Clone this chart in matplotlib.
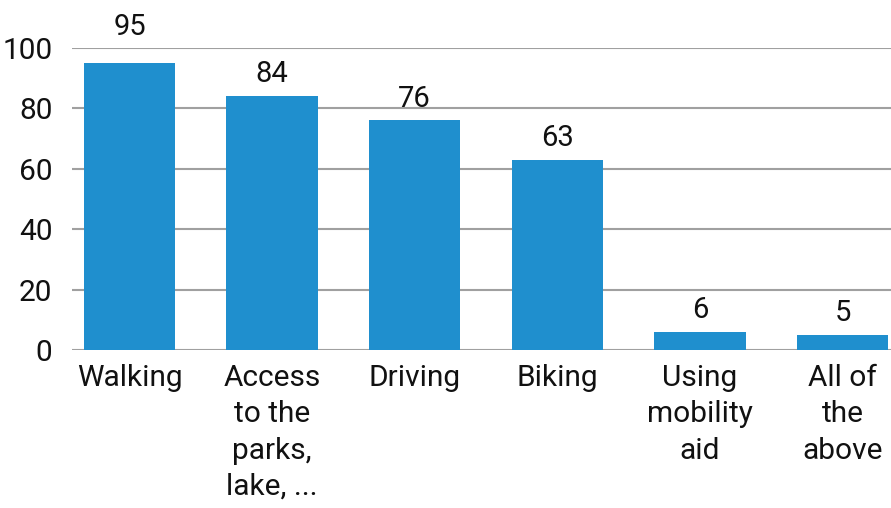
import matplotlib
matplotlib.use("Agg")
import matplotlib.pyplot as plt

categories = ["Walking", "Access\nto the\nparks,\nlake, ...", "Driving", "Biking",
              "Using\nmobility\naid", "All of\nthe\nabove"]
values = [95, 84, 76, 63, 6, 5]
yticks = [0, 20, 40, 60, 80, 100]

plt.rcParams['font.family'] = ['Roboto', 'DejaVu Sans']

fig = plt.figure(figsize=(8.91, 5.08), dpi=100)
ax = fig.add_axes([72/891, (508-350)/508, 1 - 72/891, (350-48)/508])

ymax = yticks[-1]
x = list(range(len(categories)))
bars = ax.bar(x, values, width=0.64, color="#1f8fce", zorder=3)
for xi, v in zip(x, values):
    # label sits just above the bar; if it would cross the top gridline, lift it above
    if v > ymax - 10:
        ax.annotate(str(v), (xi, ymax), xytext=(0, 9), textcoords="offset points",
                    ha="center", va="baseline", fontsize=21, color="#111111",
                    annotation_clip=False)
    else:
        ax.annotate(str(v), (xi, v), xytext=(0, 10), textcoords="offset points",
                    ha="center", va="baseline", fontsize=21, color="#111111",
                    annotation_clip=False)

ax.set_xlim(-0.403, 5.34)
ax.set_ylim(0, ymax)
ax.set_yticks(yticks)
ax.set_yticklabels([str(t) for t in yticks], fontsize=21.5, color="#111111")
ax.set_xticks(x)
ax.set_xticklabels(categories, fontsize=21.5, color="#111111", linespacing=1.38, va="top")
ax.tick_params(axis="both", length=0)
ax.tick_params(axis="x", pad=10)
ax.tick_params(axis="y", pad=14)
ax.grid(axis="y", color="#a0a0a0", linewidth=1.5, zorder=0)
for s in ax.spines.values():
    s.set_visible(False)

fig.savefig("out.png", dpi=100)
